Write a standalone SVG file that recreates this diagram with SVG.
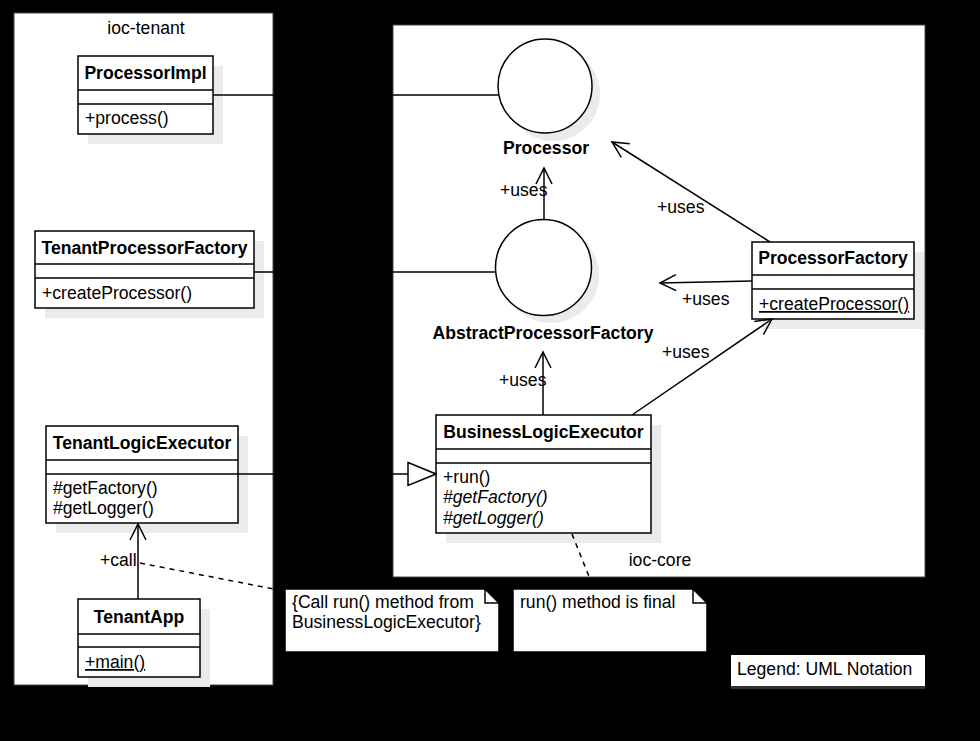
<svg xmlns="http://www.w3.org/2000/svg" width="980" height="741" viewBox="0 0 980 741">
<defs>
<style>
text{font-family:"Liberation Sans",Arial,sans-serif;font-size:17.6px;fill:#000}
.b{font-weight:bold}
.i{font-style:italic}
.u{text-decoration:underline}
.box{fill:#fff;stroke:#000;stroke-width:1.5}
.sh{fill:#ebebeb}
.ln{stroke:#000;stroke-width:1.5;fill:none}
.dash{stroke:#000;stroke-width:1.5;fill:none;stroke-dasharray:5 5}
.cont{fill:#fff;stroke:#444;stroke-width:1}
</style>
<marker id="open" viewBox="0 0 20 20" refX="18" refY="10" markerWidth="20" markerHeight="20" markerUnits="userSpaceOnUse" orient="auto">
<path d="M2,2 L18,10 L2,18" fill="none" stroke="#000" stroke-width="1.5"/>
</marker>
<marker id="tri" viewBox="0 0 30 26" refX="29" refY="13" markerWidth="30" markerHeight="26" markerUnits="userSpaceOnUse" orient="auto">
<path d="M1,1.5 L29,13 L1,24.5 Z" fill="#fff" stroke="#000" stroke-width="1.5"/>
</marker>
</defs>
<rect x="0" y="0" width="980" height="741" fill="#000"/>

<g id="ioc-tenant">
<rect class="cont" x="14" y="13" width="259" height="672"/>
<text x="146" y="34" text-anchor="middle">ioc-tenant</text>
</g>
<g id="ioc-core">
<rect class="cont" x="393" y="25" width="532" height="552"/>
<text x="660" y="566" text-anchor="middle">ioc-core</text>
</g>

<g id="ProcessorImpl">
<rect class="sh" x="88" y="66" width="135" height="78"/>
<rect class="box" x="78" y="56" width="135" height="78"/>
<line class="ln" x1="78" y1="90" x2="213" y2="90"/>
<line class="ln" x1="78" y1="104" x2="213" y2="104"/>
<text class="b" x="145.5" y="79" text-anchor="middle">ProcessorImpl</text>
<text x="85" y="124">+process()</text>
</g>

<g id="TenantProcessorFactory">
<rect class="sh" x="45" y="241" width="219" height="77"/>
<rect class="box" x="35" y="231" width="219" height="77"/>
<line class="ln" x1="35" y1="264" x2="254" y2="264"/>
<line class="ln" x1="35" y1="278" x2="254" y2="278"/>
<text class="b" x="144.5" y="254" text-anchor="middle">TenantProcessorFactory</text>
<text x="42" y="299">+createProcessor()</text>
</g>

<g id="TenantLogicExecutor">
<rect class="sh" x="56" y="436" width="192" height="97"/>
<rect class="box" x="46" y="426" width="192" height="97"/>
<line class="ln" x1="46" y1="460" x2="238" y2="460"/>
<line class="ln" x1="46" y1="474" x2="238" y2="474"/>
<text class="b" x="142" y="449" text-anchor="middle">TenantLogicExecutor</text>
<text x="53" y="494">#getFactory()</text>
<text x="53" y="514">#getLogger()</text>
</g>

<g id="TenantApp">
<rect class="sh" x="88" y="609" width="122" height="78"/>
<rect class="box" x="78" y="599" width="122" height="78"/>
<line class="ln" x1="78" y1="634" x2="200" y2="634"/>
<line class="ln" x1="78" y1="647" x2="200" y2="647"/>
<text class="b" x="139" y="623" text-anchor="middle">TenantApp</text>
<text class="u" x="85" y="668">+main()</text>
</g>

<g id="Processor">
<circle class="sh" cx="553" cy="94" r="47"/>
<circle class="box" cx="545" cy="86" r="47"/>
<text class="b" x="546" y="154" text-anchor="middle">Processor</text>
</g>

<g id="AbstractProcessorFactory">
<circle class="sh" cx="551" cy="275" r="48"/>
<circle class="box" cx="543.5" cy="267.5" r="48"/>
<text class="b" x="543" y="339" text-anchor="middle">AbstractProcessorFactory</text>
</g>

<g id="ProcessorFactory">
<rect class="sh" x="762" y="252" width="162" height="77"/>
<rect class="box" x="752" y="242" width="162" height="77"/>
<line class="ln" x1="752" y1="275" x2="914" y2="275"/>
<line class="ln" x1="752" y1="289" x2="914" y2="289"/>
<text class="b" x="833" y="264" text-anchor="middle">ProcessorFactory</text>
<text class="u" x="759" y="310">+createProcessor()</text>
</g>

<g id="BusinessLogicExecutor">
<rect class="sh" x="446" y="425" width="215" height="118"/>
<rect class="box" x="436" y="415" width="215" height="118"/>
<line class="ln" x1="436" y1="449" x2="651" y2="449"/>
<line class="ln" x1="436" y1="463" x2="651" y2="463"/>
<text class="b" x="543.5" y="438" text-anchor="middle">BusinessLogicExecutor</text>
<text x="443" y="483">+run()</text>
<text class="i" x="443" y="503">#getFactory()</text>
<text class="i" x="443" y="524">#getLogger()</text>
</g>

<g id="note-call">
<path class="box" d="M285,589 H485 L499,603 V652 H285 Z"/>
<path class="ln" d="M485,589 V603 H499"/>
<text x="292" y="608">{Call run() method from</text>
<text x="292" y="628">BusinessLogicExecutor}</text>
</g>

<g id="note-final">
<path class="box" d="M513,589 H693 L707,603 V652 H513 Z"/>
<path class="ln" d="M693,589 V603 H707"/>
<text x="520" y="608">run() method is final</text>
</g>

<g id="legend">
<rect x="731" y="686" width="194" height="3" fill="#333"/>
<rect x="731" y="655" width="194" height="31" fill="#fff"/>
<text x="737" y="675">Legend: UML Notation</text>
</g>

<g id="connectors">
<line class="ln" x1="213" y1="95" x2="498" y2="95"/>
<line class="ln" x1="254" y1="272" x2="495" y2="272"/>
<line class="ln" x1="238" y1="474" x2="436" y2="474" marker-end="url(#tri)"/>
<line class="ln" x1="138" y1="599" x2="138" y2="524" marker-end="url(#open)"/>
<text x="100" y="566">+call</text>
<line class="dash" x1="140" y1="563" x2="284" y2="591"/>
<line class="dash" x1="572" y1="534" x2="594" y2="589"/>
<line class="ln" x1="544" y1="219" x2="544" y2="168" marker-end="url(#open)"/>
<text x="500" y="196">+uses</text>
<line class="ln" x1="543" y1="415" x2="543" y2="352" marker-end="url(#open)"/>
<text x="499" y="386">+uses</text>
<line class="ln" x1="770" y1="242" x2="612" y2="142" marker-end="url(#open)"/>
<text x="657" y="213">+uses</text>
<line class="ln" x1="752" y1="281" x2="660" y2="283" marker-end="url(#open)"/>
<text x="682" y="305">+uses</text>
<line class="ln" x1="632" y1="415" x2="772" y2="319" marker-end="url(#open)"/>
<text x="662" y="358">+uses</text>
</g>
</svg>
